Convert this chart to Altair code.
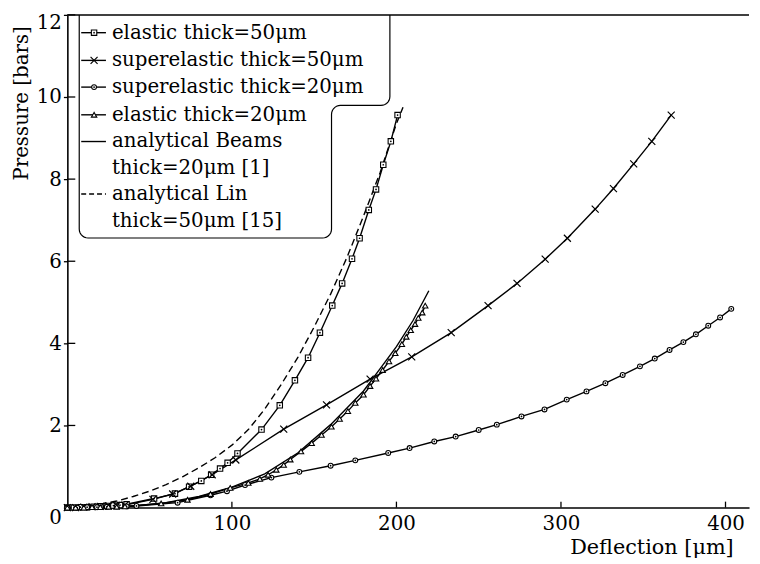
import altair as alt
import pandas as pd
import numpy as np

# ---------------- data ----------------
sq_x = [0, 4, 8, 12, 16, 20, 24, 28, 32, 36, 52.7, 65.4, 74, 81.4, 87.4, 92.8, 97.4, 103.4,
        118, 129.1, 138.3, 146.3, 153.5, 161, 167, 173, 177.6, 183.2, 187.6, 192, 196.6, 200.7]
sq_y = [0, 0.0, 0.01, 0.01, 0.02, 0.03, 0.04, 0.05, 0.06, 0.08, 0.22, 0.34, 0.51, 0.65, 0.8, 0.95, 1.09, 1.32,
        1.9, 2.49, 3.1, 3.65, 4.26, 4.92, 5.46, 6.06, 6.56, 7.25, 7.75, 8.35, 8.92, 9.56]

cr_x = [0, 5, 10, 15, 20, 25, 30, 35, 52, 64, 75, 88, 102.4, 131.5, 157.5, 184, 209.3, 233.3,
        255.7, 273.3, 290.4, 303.9, 320.8, 331.9, 344.2, 355.2, 367]
cr_y = [0, 0.0, 0.01, 0.02, 0.03, 0.04, 0.05, 0.06, 0.2, 0.33, 0.52, 0.8, 1.16, 1.91, 2.5, 3.13, 3.67, 4.26,
        4.92, 5.46, 6.05, 6.56, 7.27, 7.77, 8.37, 8.92, 9.56]

ci_x = [0, 6, 12, 18, 24, 30, 36, 42, 67, 87, 97, 108, 124, 141, 160, 175, 195, 208, 223, 236,
        250, 261, 276, 290, 303.5, 315.5, 327, 337.5, 348, 357, 366, 374.4, 382, 389.5, 396.7, 403.5]
ci_y = [0, 0.0, 0.01, 0.01, 0.02, 0.03, 0.03, 0.04, 0.12, 0.3, 0.4, 0.55, 0.73, 0.87, 1.02, 1.15, 1.33, 1.45, 1.61, 1.73,
        1.89, 2.02, 2.22, 2.39, 2.63, 2.83, 3.03, 3.23, 3.44, 3.63, 3.84, 4.03, 4.22, 4.43, 4.63, 4.84]

tr_x = [0, 5, 10, 15, 20, 25, 30, 35, 57, 73, 87, 99, 110, 117, 122, 127, 131.5, 135.5, 142, 148.5,
        154.5, 160.5, 165.5, 170.5, 175, 180, 184, 187.6, 191.6, 195.5, 199.3, 203.3, 206, 208.7,
        211.3, 213.3, 215.7, 217.5]
tr_y = [0, 0.0, 0.0, 0.01, 0.01, 0.02, 0.02, 0.03, 0.1, 0.19, 0.33, 0.48, 0.6, 0.7, 0.8, 0.92, 1.04, 1.17, 1.37, 1.57,
        1.77, 1.97, 2.16, 2.35, 2.55, 2.75, 2.96, 3.14, 3.35, 3.56, 3.76, 3.98, 4.16, 4.32,
        4.47, 4.62, 4.75, 4.92]

be_x = [0, 20, 40, 60, 80, 100, 120, 140, 160, 180, 190, 200, 210, 219.7]
be_y = [0, 0.01, 0.04, 0.12, 0.27, 0.5, 0.82, 1.33, 2.02, 2.84, 3.38, 3.92, 4.55, 5.28]

li_x = [0, 10, 20, 30, 40, 50, 60, 70, 80, 90, 100, 110, 120, 130, 140, 150, 160, 170, 180, 190, 200, 204]
li_y = [0, 0.03, 0.08, 0.16, 0.27, 0.4, 0.56, 0.75, 0.97, 1.22, 1.52, 1.9, 2.4, 3.0, 3.65, 4.4, 5.2,
        6.1, 7.1, 8.15, 9.35, 9.75]

x_ticks = [100, 200, 300, 400]
y_ticks = [0, 2, 4, 6, 8, 10, 12]

legend_labels = ["elastic thick=50\u03bcm", "superelastic thick=50\u03bcm", "superelastic thick=20\u03bcm",
                 "elastic thick=20\u03bcm", "analytical Beams", "thick=20\u03bcm [1]",
                 "analytical Lin", "thick=50\u03bcm [15]"]

# ---------------- layout ----------------
W, H = 689, 498
XMAX = 414.3
FONT = "DejaVu Serif"
LW = 1.4

xs = alt.Scale(domain=[0, XMAX], nice=False, zero=False)
ys = alt.Scale(domain=[0, 12], nice=False, zero=False)

xaxis = alt.Axis(values=[0] + x_ticks, ticks=False, grid=False, labelPadding=6,
                 labelExpr="datum.value == 0 ? '' : datum.label",
                 title="Deflection [\u03bcm]", titleX=673, titleY=46, titleAlign="right",
                 titleBaseline="alphabetic", titleFontSize=21)
yaxis = alt.Axis(values=y_ticks, tickSize=4, grid=False, labelPadding=2,
                 labelBaseline={"condition": {"test": "datum.value == 0", "value": "top"}, "value": "middle"},
                 labelOffset={"condition": {"test": "datum.value == 12", "value": 8}, "value": 0},
                 title="Pressure [bars]", titleAngle=270, titleAlign="right", titleBaseline="middle",
                 titleX=-46, titleY=11, titleFontSize=20)


def X():
    return alt.X("x:Q", scale=xs, axis=xaxis)


def Y():
    return alt.Y("y:Q", scale=ys, axis=yaxis)


def frame(x, y):
    return pd.DataFrame({"x": x, "y": y})


def series_line(x, y, dash=None):
    kw = dict(color="black", strokeWidth=LW)
    if dash:
        kw["strokeDash"] = dash
    return alt.Chart(frame(x, y)).mark_line(**kw).encode(x=X(), y=Y())


CROSS = "M-1,-1L1,1M-1,1L1,-1"


def series_points(x, y, shape, size, dot=False):
    layers = [alt.Chart(frame(x, y)).mark_point(shape=shape, size=size, filled=False, fill="white",
                                                 fillOpacity=1, color="black", strokeWidth=1.1,
                                                 opacity=1).encode(x=X(), y=Y())]
    if dot:
        layers.append(alt.Chart(frame(x, y)).mark_point(shape="circle", size=3, filled=True,
                                                         color="black", opacity=1).encode(x=X(), y=Y()))
    return layers


layers = []
# lines
layers.append(series_line(li_x, li_y, dash=[7, 4]))
layers.append(series_line(be_x, be_y))
layers.append(series_line(sq_x, sq_y))
layers.append(series_line(cr_x, cr_y))
layers.append(series_line(ci_x, ci_y))
layers.append(series_line(tr_x, tr_y))
# markers
layers += series_points(sq_x, sq_y, "square", 30, dot=True)
layers += [alt.Chart(frame(cr_x, cr_y)).mark_point(shape=CROSS, size=50, filled=False, color="black",
                                                   strokeWidth=1.2, opacity=1).encode(x=X(), y=Y())]
layers += series_points(ci_x, ci_y, "circle", 24, dot=True)
layers += series_points(tr_x, tr_y, "triangle-up", 30)

# inward ticks
one = pd.DataFrame({"a": [0]})
layers.append(alt.Chart(pd.DataFrame({"y": y_ticks[1:]})).mark_rule(color="black", strokeWidth=1.3).encode(
    y=Y(), x=alt.value(0), x2=alt.value(8)))
layers.append(alt.Chart(pd.DataFrame({"x": x_ticks})).mark_rule(color="black", strokeWidth=1.3).encode(
    x=X(), y=alt.value(H - 6), y2=alt.value(H)))
# top border
layers.append(alt.Chart(one).mark_rule(color="black", strokeWidth=1.5).encode(
    x=alt.value(0), x2=alt.value(W), y=alt.value(0)))

# legend outline (pixel geometry converted to data space)
r = 9
L, T, R1, NY, R2, B = 12, 0, 326, 91.5, 267, 225.5


def arc(cx, cy, a0, a1, n=8):
    t = np.radians(np.linspace(a0, a1, n))
    return list(zip(cx + r * np.cos(t), cy + r * np.sin(t)))


pts = [(L, T)]
pts += arc(L + r, B - r, 180, 90)
pts += arc(R2 - r, B - r, 90, 0)
pts += arc(R2 + r, NY + r, 180, 270)
pts += arc(R1 - r, NY - r, 90, 0)
pts += [(R1, T)]
px = np.array([p[0] for p in pts])
py = np.array([p[1] for p in pts])
box = pd.DataFrame({"x": px / W * XMAX, "y": 12 - py / H * 12, "i": np.arange(len(pts))})
layers.append(alt.Chart(box).mark_line(color="black", strokeWidth=1.2).encode(
    x=X(), y=Y(), order="i:Q"))

# legend entries
row_y = [18, 46, 73, 101, 128, 155, 181, 208]
for lab, yy in zip(legend_labels, row_y):
    layers.append(alt.Chart(pd.DataFrame({"t": [lab]})).mark_text(
        align="left", baseline="middle", font=FONT, fontSize=20, color="black").encode(
        x=alt.value(45), y=alt.value(yy), text="t:N"))

sym_rows = [(row_y[0], "square", 30, True), (row_y[1], CROSS, 50, False),
            (row_y[2], "circle", 24, True), (row_y[3], "triangle-up", 30, False)]
for yy, shp, sz, dot in sym_rows:
    layers.append(alt.Chart(one).mark_rule(color="black", strokeWidth=LW).encode(
        x=alt.value(14), x2=alt.value(39), y=alt.value(yy)))
    if shp == CROSS:
        layers.append(alt.Chart(one).mark_point(shape=shp, size=sz, filled=False, color="black",
                                                strokeWidth=1.2, opacity=1).encode(
            x=alt.value(27), y=alt.value(yy)))
    else:
        layers.append(alt.Chart(one).mark_point(shape=shp, size=sz, filled=False, fill="white",
                                                fillOpacity=1, color="black", strokeWidth=1.1,
                                                opacity=1).encode(x=alt.value(27), y=alt.value(yy)))
    if dot:
        layers.append(alt.Chart(one).mark_point(shape="circle", size=3, filled=True, color="black",
                                                opacity=1).encode(x=alt.value(27), y=alt.value(yy)))
layers.append(alt.Chart(one).mark_rule(color="black", strokeWidth=LW).encode(
    x=alt.value(14), x2=alt.value(39), y=alt.value(row_y[4])))
layers.append(alt.Chart(one).mark_rule(color="black", strokeWidth=LW, strokeDash=[5, 3]).encode(
    x=alt.value(14), x2=alt.value(39), y=alt.value(row_y[6])))

chart = alt.layer(*layers).properties(
    width=W, height=H,
    autosize=alt.AutoSizeParams(type="none"),
    padding={"left": 60, "top": 4, "right": 3, "bottom": 48},
    background="white",
).configure_view(stroke=None).configure_axis(
    labelFont=FONT, titleFont=FONT, labelFontSize=20, labelColor="black", titleColor="black",
    titleFontWeight="normal", domainColor="black", domainWidth=1.6, tickColor="black", tickWidth=1.3,
)

chart.save("out.html", embed_options={"renderer": "svg", "actions": False})
